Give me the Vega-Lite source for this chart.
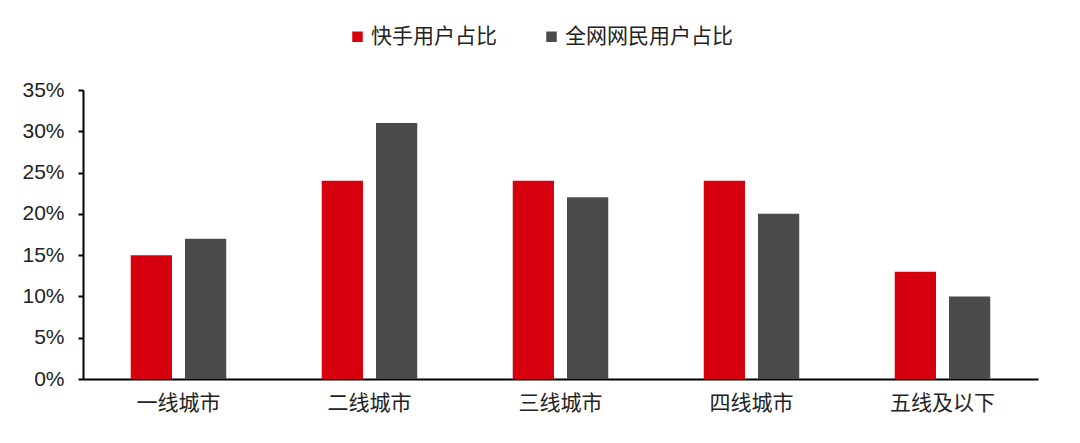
{
  "$schema": "https://vega.github.io/schema/vega-lite/v6.json",
  "width": 955,
  "height": 289,
  "autosize": {"type": "none"},
  "padding": {"left": 83, "top": 90, "right": 42, "bottom": 64},
  "background": "white",
  "data": {
    "values": [
      {"city": "一线城市", "series": "快手用户占比", "share": 0.15},
      {"city": "一线城市", "series": "全网网民用户占比", "share": 0.17},
      {"city": "二线城市", "series": "快手用户占比", "share": 0.24},
      {"city": "二线城市", "series": "全网网民用户占比", "share": 0.31},
      {"city": "三线城市", "series": "快手用户占比", "share": 0.24},
      {"city": "三线城市", "series": "全网网民用户占比", "share": 0.22},
      {"city": "四线城市", "series": "快手用户占比", "share": 0.24},
      {"city": "四线城市", "series": "全网网民用户占比", "share": 0.20},
      {"city": "五线及以下", "series": "快手用户占比", "share": 0.13},
      {"city": "五线及以下", "series": "全网网民用户占比", "share": 0.10}
    ]
  },
  "mark": {"type": "bar"},
  "encoding": {
    "x": {
      "field": "city",
      "type": "nominal",
      "sort": null,
      "title": null,
      "scale": {"paddingInner": 0.5, "paddingOuter": 0.25},
      "axis": {
        "labelAngle": 0,
        "labelFont": "Noto Sans CJK SC",
        "labelFontSize": 21,
        "labelColor": "#222",
        "labelPadding": 13,
        "ticks": false,
        "domainColor": "black",
        "domainWidth": 2
      }
    },
    "xOffset": {
      "field": "series",
      "sort": ["快手用户占比", "全网网民用户占比"],
      "scale": {"paddingInner": 0.24}
    },
    "y": {
      "field": "share",
      "type": "quantitative",
      "title": null,
      "scale": {"domain": [0, 0.35]},
      "axis": {
        "values": [0, 0.05, 0.1, 0.15, 0.2, 0.25, 0.3, 0.35],
        "format": ".0%",
        "grid": false,
        "labelFont": "Liberation Sans",
        "labelFontSize": 21,
        "labelColor": "#222",
        "labelPadding": 14,
        "tickSize": 5,
        "tickColor": "black",
        "tickWidth": 2,
        "domainColor": "black",
        "domainWidth": 2
      }
    },
    "color": {
      "field": "series",
      "type": "nominal",
      "sort": ["快手用户占比", "全网网民用户占比"],
      "scale": {
        "domain": ["快手用户占比", "全网网民用户占比"],
        "range": ["#D7000F", "#4B4B4B"]
      },
      "legend": {
        "title": null,
        "orient": "none",
        "legendX": 264,
        "legendY": -64,
        "direction": "horizontal",
        "columns": 2,
        "columnPadding": 44,
        "symbolType": "square",
        "symbolSize": 110,
        "symbolStrokeWidth": 0,
        "labelFont": "Noto Sans CJK SC",
        "labelFontSize": 21,
        "labelColor": "#222",
        "labelOffset": 3,
        "labelLimit": 0
      }
    }
  },
  "config": {"view": {"stroke": null}}
}
